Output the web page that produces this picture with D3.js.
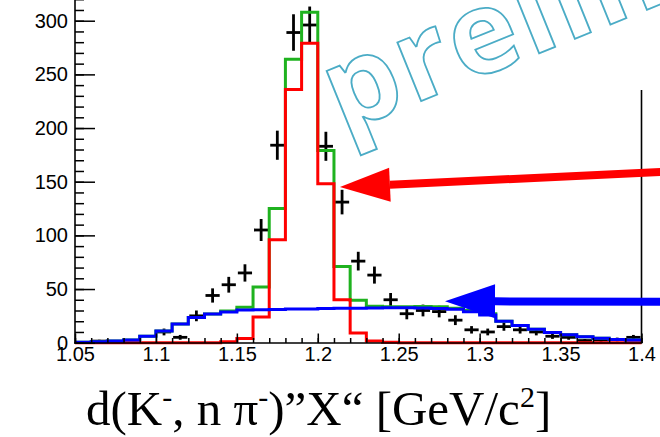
<!DOCTYPE html>
<html>
<head>
<meta charset="utf-8">
<script src="https://cdn.jsdelivr.net/npm/d3@7"></script>
<style>
  html, body { margin: 0; padding: 0; background: #fff; }
  svg { display: block; }
</style>
</head>
<body>
<svg id="chart" width="660" height="437"></svg>
<script>
// Bin edges of the missing-mass histogram (GeV/c^2), 0.01 wide
const binEdges = [1.05, 1.06, 1.07, 1.08, 1.09, 1.10, 1.11, 1.12, 1.13, 1.14,
                  1.15, 1.16, 1.17, 1.18, 1.19, 1.20, 1.21, 1.22, 1.23, 1.24,
                  1.25, 1.26, 1.27, 1.28, 1.29, 1.30, 1.31, 1.32, 1.33, 1.34,
                  1.35, 1.36, 1.37, 1.38, 1.39, 1.40];

// Measured counts per bin (error = sqrt(N))
const dataCounts = [0, 1.5, 0, 0, 0, 10, 5, 25, 44, 54,
                    65, 105, 184, 289, 296, 183, 131, 76, 63, 40,
                    27, 30, 29, 21, 12, 10, 15, 12, 10, 6,
                    5, 2, 2.5, 3, 5];

// Total fit (signal + background)
const totalFit = [0.5, 1, 1.5, 2.5, 6, 11, 17.5, 23.5, 26.7, 29.6,
                  33, 52, 125, 264, 308, 179, 71, 39.5, 34, 33.5,
                  33.5, 33.8, 33.5, 32, 30, 27, 20, 16, 12.5, 9.5,
                  7.5, 5.6, 4.2, 3, 2.5];

// Signal component
const signalFit = [0, 0, 0, 0, 0, 0, 0, 0, 0, 1,
                   4, 24, 96, 236, 279, 148, 40, 9, 1.5, 0.5,
                   0, 0, 0, 0, 0, 0, 0, 0, 0, 0,
                   0, 0, 0, 0, 0];

// Background component
const backgroundFit = [0.5, 1, 1.5, 2.5, 6, 11, 17.5, 23.5, 26.7, 28.6,
                       30.5, 30.8, 31, 31.3, 31.5, 31.8, 32, 32.2, 32.4, 32.6,
                       32.6, 32.3, 31.8, 31.1, 28.9, 25.8, 20, 16, 12.5, 9.5,
                       7.5, 5.6, 4.2, 3, 2.5];

const xTicks = [1.05, 1.1, 1.15, 1.2, 1.25, 1.3, 1.35, 1.4];
const xTickLabels = ["1.05", "1.1", "1.15", "1.2", "1.25", "1.3", "1.35", "1.4"];
const yTicks = [0, 50, 100, 150, 200, 250, 300];
const yTickLabels = ["0", "50", "100", "150", "200", "250", "300"];

// Annotation arrows, given in axis units: [x, y] tail -> head
const arrows = [
  { from: [1.4118, 159], to: [1.2137, 145], color: "#ff0000" },
  { from: [1.4118, 38.2], to: [1.2786, 38.6], color: "#0000ff" }
];

const svg = d3.select("#chart");

const x = d3.scaleLinear().domain([1.05, 1.40]).range([75, 641.5]);
const y = d3.scaleLinear().domain([0, 319.3]).range([342.7, 0]);

// ---- data points with error crosses ----
const pts = svg.append("g").attr("stroke", "#000").attr("stroke-width", 2.8);
dataCounts.forEach((c, i) => {
  if (c <= 0) return;
  const lo = binEdges[i], hi = binEdges[i + 1];
  const mid = (lo + hi) / 2;
  const err = Math.sqrt(c);
  pts.append("line")
    .attr("x1", x(lo) + 1).attr("x2", x(hi) - 1)
    .attr("y1", y(c)).attr("y2", y(c));
  pts.append("line")
    .attr("x1", x(mid)).attr("x2", x(mid))
    .attr("y1", y(Math.max(0, c - err))).attr("y2", y(c + err));
});

// ---- step histograms ----
function stepPoints(vals) {
  const p = [];
  vals.forEach((v, i) => {
    p.push([binEdges[i], v]);
    p.push([binEdges[i + 1], v]);
  });
  return p;
}
const stepLine = d3.line().x(d => x(d[0])).y(d => y(d[1]));

[[totalFit, "#1fb21f"], [signalFit, "#ff0000"], [backgroundFit, "#0000ff"]]
  .forEach(([vals, col]) => {
    svg.append("path")
      .attr("d", stepLine(stepPoints(vals)))
      .attr("fill", "none")
      .attr("stroke", col)
      .attr("stroke-width", 3)
      .attr("stroke-linejoin", "miter");
  });

// ---- axes ----
const axisFont = "'Liberation Sans', Arial, Helvetica, sans-serif";

const yMinor = svg.append("g").attr("transform", "translate(75,0)")
  .call(d3.axisLeft(y).tickValues(d3.range(0, 321, 10)).tickSize(-9).tickFormat(""));
const yMajor = svg.append("g").attr("transform", "translate(75,0)")
  .call(d3.axisLeft(y).tickValues(yTicks).tickSize(-20).tickPadding(7)
    .tickFormat((d, i) => yTickLabels[i]));

const xMinor = svg.append("g").attr("transform", "translate(0,343)")
  .call(d3.axisBottom(x).tickValues(binEdges).tickSize(-5).tickFormat(""));
const xMajor = svg.append("g").attr("transform", "translate(0,343)")
  .call(d3.axisBottom(x).tickValues(xTicks).tickSize(-9.5).tickPadding(4)
    .tickFormat((d, i) => xTickLabels[i]));

[yMinor, yMajor, xMinor, xMajor].forEach(g => {
  g.select(".domain").remove();
  g.selectAll(".tick line").attr("stroke", "#000").attr("stroke-width", 1.5);
  g.selectAll(".tick text")
    .attr("fill", "#000")
    .style("font-family", axisFont)
    .style("font-size", "20px");
});

// axis lines and right frame edge
svg.append("line").attr("x1", 75).attr("x2", 75).attr("y1", 0).attr("y2", 343.7)
  .attr("stroke", "#000").attr("stroke-width", 1.6);
svg.append("line").attr("x1", 74.2).attr("x2", 642.3).attr("y1", 343).attr("y2", 343)
  .attr("stroke", "#000").attr("stroke-width", 1.6);
svg.append("line").attr("x1", 641.5).attr("x2", 641.5).attr("y1", 90).attr("y2", 343)
  .attr("stroke", "#000").attr("stroke-width", 1.6);

// ---- arrows ----
arrows.forEach(a => {
  const x0 = x(a.from[0]), y0 = y(a.from[1]);
  const x1 = x(a.to[0]), y1 = y(a.to[1]);
  const ang = Math.atan2(y1 - y0, x1 - x0);
  const headLen = 50, headHalf = 17, shaft = 8;
  const bx = x1 - headLen * Math.cos(ang), by = y1 - headLen * Math.sin(ang);
  const nx = -Math.sin(ang), ny = Math.cos(ang);
  svg.append("line")
    .attr("x1", x0).attr("y1", y0).attr("x2", bx).attr("y2", by)
    .attr("stroke", a.color).attr("stroke-width", shaft);
  svg.append("path")
    .attr("d", `M${x1},${y1}L${bx + nx * headHalf},${by + ny * headHalf}L${bx - nx * headHalf},${by - ny * headHalf}Z`)
    .attr("fill", a.color);
});

// ---- watermark ----
svg.append("text")
  .attr("transform", "translate(342,133) rotate(-22)")
  .attr("fill", "#fff")
  .attr("stroke", "#4bacc6")
  .attr("stroke-width", 1.8)
  .style("font-family", "'Open Sans', sans-serif")
  .style("font-weight", "700")
  .style("font-size", "116px")
  .style("letter-spacing", "3px")
  .text("preliminary");

// ---- x-axis title ----
const title = svg.append("text")
  .attr("x", 86).attr("y", 425)
  .attr("fill", "#000")
  .style("font-family", "'Liberation Serif', 'Times New Roman', serif")
  .style("font-size", "49px");
title.append("tspan").text("d(K");
title.append("tspan").attr("dy", -18).style("font-size", "30px").text("-");
title.append("tspan").attr("dy", 18).text(", n π");
title.append("tspan").attr("dy", -18).style("font-size", "30px").text("-");
title.append("tspan").attr("dy", 18).text(")”X“ [GeV/c");
title.append("tspan").attr("dy", -18).style("font-size", "30px").text("2");
title.append("tspan").attr("dy", 18).text("]");
</script>
</body>
</html>
